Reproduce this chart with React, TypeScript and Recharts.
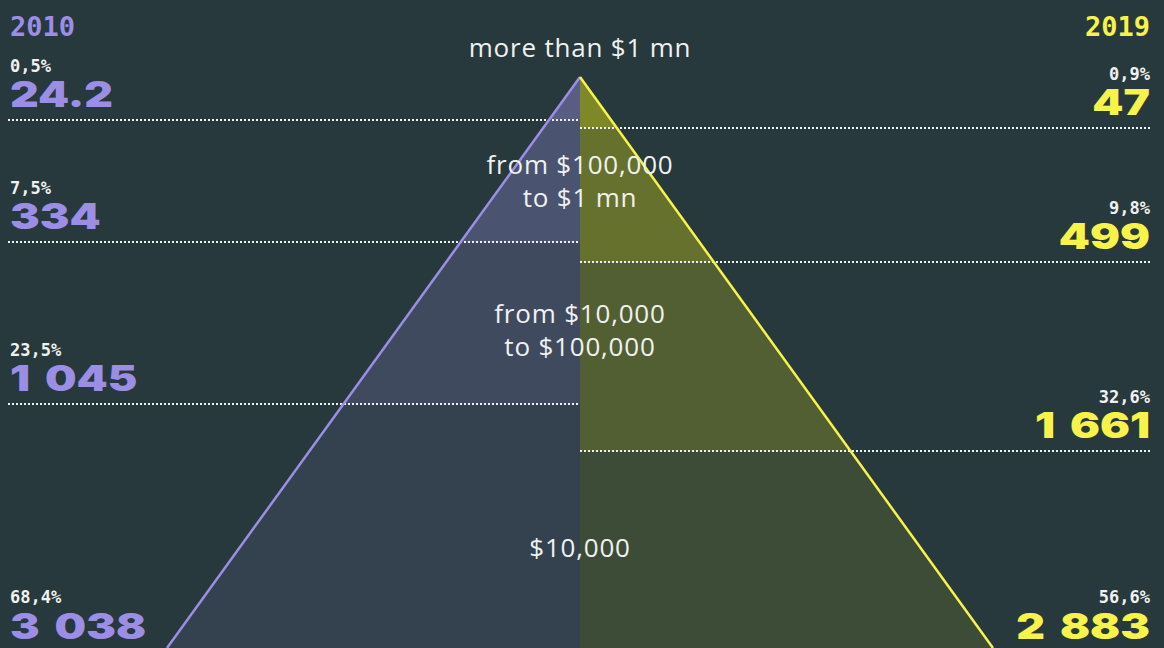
import { ComposedChart, Area, Line, XAxis, YAxis, ReferenceLine, ReferenceDot } from "recharts";

const BG = "#27393c";
const PURPLE = "#9b8ee4";
const YELLOW = "#f8f34a";
const YELLOW_FILL = "#f4f00c";
const WHITE = "#f1f1f1";

// wealth bands, top of the pyramid first
const bandLabels = [
  ["more than $1 mn"],
  ["from $100,000", "to $1 mn"],
  ["from $10,000", "to $100,000"],
  ["$10,000"],
];
const labelDepths = [-0.035, 0.17, 0.431, 0.841];
const bandOpacity = [0.43, 0.31, 0.21, 0.11];

// 2010
const values2010 = [24.2, 334, 1045, 3038];
const shares2010 = [0.5, 7.5, 23.5, 68.4];
const bounds2010 = [0, 0.075, 0.289, 0.573, 1];

// 2019
const values2019 = [47, 499, 1661, 2883];
const shares2019 = [0.9, 9.8, 32.6, 56.6];
const bounds2019 = [0, 0.089, 0.324, 0.655, 1];

// pyramid geometry (half width per unit of depth) and view window
const SLOPE = 0.7233;
const xDomain = [-1.0158, 1.0228];
const yDomain = [-0.1349, 1];

const W = 1164;
const H = 648;

const fmtValue = (v: number) => {
  const [i, d] = String(v).split(".");
  return i.replace(/\B(?=(\d{3})+(?!\d))/g, "\u2004") + (d ? "." + d : "");
};
const fmtShare = (v: number) => v.toFixed(1).replace(".", ",") + "%";

const sides = [
  { key: "l", year: "2010", values: values2010, shares: shares2010, bounds: bounds2010, color: PURPLE, fill: PURPLE, dir: -1, from: -1.0018, to: 0 },
  { key: "r", year: "2019", values: values2019, shares: shares2019, bounds: bounds2019, color: YELLOW, fill: YELLOW_FILL, dir: 1, from: 0, to: 1.0018 },
];

const numFont = "Inter, 'DejaVu Sans', sans-serif";
const monoFont = "'DejaVu Sans Mono', monospace";
const textFont = "'Open Sans', sans-serif";

function valueLabel(side: (typeof sides)[number], i: number) {
  const last = i === side.values.length - 1;
  return (props: any) => {
    const vb = props.viewBox || {};
    const left = side.dir < 0;
    const x = left ? vb.x + 2 : vb.x + vb.width - 2;
    const base = vb.y - (last ? 9 : 13);
    return (
      <g>
        <text x={x} y={base - (last ? 36 : 35)} fill={WHITE} fontFamily={monoFont} fontWeight={700} fontSize={17} textAnchor={left ? "start" : "end"}>
          {fmtShare(side.shares[i])}
        </text>
        <g transform={`translate(${x},${base}) scale(1.27,1)`}>
          <text x={0} y={0} fill={side.color} fontFamily={numFont} fontWeight={900} fontSize={35} textAnchor={left ? "start" : "end"}>
            {fmtValue(side.values[i])}
          </text>
        </g>
      </g>
    );
  };
}

function bandLabel(lines: string[]) {
  return (props: any) => {
    const vb = props.viewBox || {};
    return (
      <text x={vb.x} y={vb.y} fill={WHITE} fontFamily={textFont} fontSize={26} letterSpacing={0.8} textAnchor="middle">
        {lines.map((l, k) => (
          <tspan key={k} x={vb.x} dy={k === 0 ? 0 : 33}>
            {l}
          </tspan>
        ))}
      </text>
    );
  };
}

export default function App() {
  return (
    <div style={{ position: "absolute", left: 0, top: 0, width: W, height: H, background: BG }}>
      <ComposedChart width={W} height={H} layout="vertical" margin={{ top: 0, right: 0, bottom: 0, left: 0 }}>
        <XAxis type="number" dataKey="x" domain={xDomain} allowDataOverflow hide />
        <YAxis type="number" dataKey="d" domain={yDomain} allowDataOverflow hide />

        {sides.map((s) =>
          s.bounds.slice(1).map((b, i) => (
            <ReferenceLine
              key={`rl-${s.key}-${i}`}
              segment={[{ x: s.from, y: b }, { x: s.to, y: b }]}
              stroke={i === s.bounds.length - 2 ? "none" : WHITE}
              strokeWidth={2}
              strokeDasharray="2 2"
              shapeRendering="crispEdges"
              label={valueLabel(s, i)}
            />
          ))
        )}

        {sides.map((s) =>
          s.bounds.slice(0, -1).map((b, i) => (
            <Area
              key={`band-${s.key}-${i}`}
              data={[
                { x: s.dir * SLOPE * b, d: b },
                { x: s.dir * SLOPE * s.bounds[i + 1], d: s.bounds[i + 1] },
              ]}
              dataKey="x"
              type="linear"
              baseValue={0}
              stroke="none"
              fill={s.fill}
              fillOpacity={bandOpacity[i]}
              dot={false}
              activeDot={false}
              isAnimationActive={false}
            />
          ))
        )}

        {sides.map((s) => (
          <Line
            key={`edge-${s.key}`}
            data={[
              { x: 0, d: 0 },
              { x: s.dir * SLOPE, d: 1 },
            ]}
            dataKey="x"
            type="linear"
            stroke={s.color}
            strokeWidth={2.5}
            dot={false}
            activeDot={false}
            isAnimationActive={false}
          />
        ))}

        {bandLabels.map((lines, i) => (
          <ReferenceDot key={`bl-${i}`} x={0} y={labelDepths[i]} r={0} fill="none" stroke="none" label={bandLabel(lines)} />
        ))}

        <text x={10} y={36} fill={PURPLE} fontFamily={monoFont} fontWeight={700} fontSize={27}>
          {sides[0].year}
        </text>
        <text x={1150} y={36} fill={YELLOW} fontFamily={monoFont} fontWeight={700} fontSize={27} textAnchor="end">
          {sides[1].year}
        </text>
      </ComposedChart>
    </div>
  );
}
